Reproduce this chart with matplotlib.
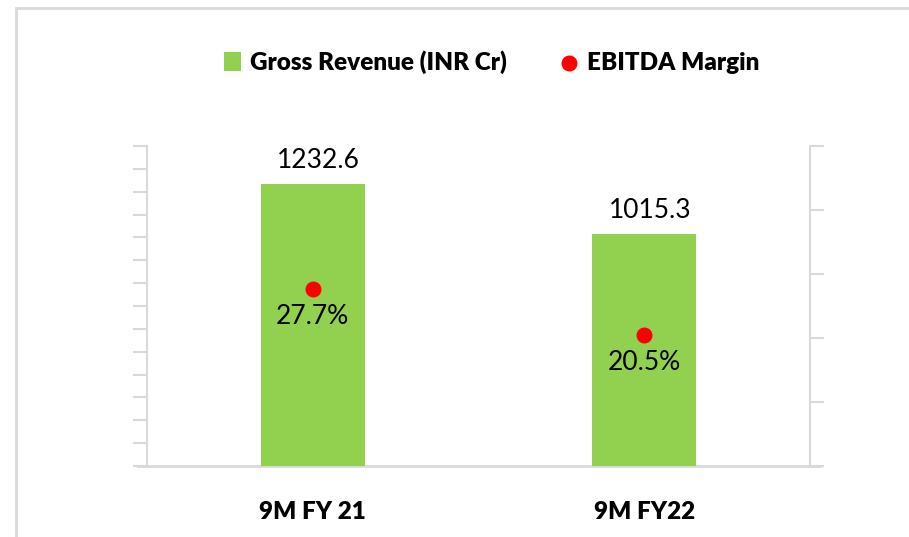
import matplotlib.pyplot as plt
from matplotlib.patches import Rectangle

# data
periods = ['9M FY 21', '9M FY22']
revenue = [1232.6, 1015.3]      # Gross Revenue (INR Cr)
ebitda_margin = [27.7, 20.5]    # EBITDA Margin (%)

green = '#92D050'
red = '#FF0000'
grey = '#D9D9D9'

plt.rcParams['font.family'] = ['Lato', 'DejaVu Sans']

fig = plt.figure(figsize=(9.09, 5.37), dpi=100)
ax = fig.add_axes([147 / 909, 71 / 537, 663 / 909, 320 / 537])
ax2 = ax.twinx()

x = list(range(len(periods)))
bars = ax.bar(x, revenue, width=0.315, color=green, label='Gross Revenue (INR Cr)', zorder=2)
pts = ax2.scatter(x, ebitda_margin, s=110, color=red, label='EBITDA Margin', zorder=3)

ax.set_xlim(-0.5, 1.5)
ax.set_ylim(0, 1400)
ax.set_yticks(range(0, 1401, 100))
ax2.set_ylim(0, 50)
ax2.set_yticks(range(0, 51, 10))
ax.set_yticklabels([])
ax2.set_yticklabels([])

ax.set_xticks(x)
ax.set_xticklabels(periods, fontsize=17.5, fontweight='heavy')
ax.tick_params(axis='x', length=0, pad=25)
ax.tick_params(axis='y', length=10, width=1.5, color=grey, direction='out')
ax2.tick_params(axis='y', length=10, width=1.5, color=grey, direction='out')

for a in (ax, ax2):
    a.spines['top'].set_visible(False)
    a.spines['bottom'].set_visible(False)
    a.spines['left'].set_color(grey)
    a.spines['right'].set_color(grey)
    a.spines['left'].set_linewidth(1.5)
    a.spines['right'].set_linewidth(1.5)
ax.spines['right'].set_visible(False)
ax2.spines['left'].set_visible(False)

# base line reaching past both axes
ax.plot([-0.0136, 1.015], [0, 0], transform=ax.transAxes, color=grey,
        linewidth=2, clip_on=False, zorder=1)

for xi, v in zip(x, revenue):
    ax.annotate(f'{v:.1f}', (xi, v), xytext=(4, 17), textcoords='offset points',
                ha='center', va='center', fontsize=19)
for xi, m in zip(x, ebitda_margin):
    ax2.annotate(f'{m:.1f}%', (xi, m), xytext=(0, -20), textcoords='offset points',
                 ha='center', va='center', fontsize=19)

fig.legend(handles=[bars, pts], loc='center', bbox_to_anchor=(0.541, 0.8845),
           ncol=2, frameon=False, prop={'weight': 'heavy', 'size': 17.5},
           handlelength=0.7, handleheight=0.8, handletextpad=0.4, columnspacing=2.2)

# outer chart border (cropped at right and bottom)
fig.patches.append(Rectangle((16 / 909, -0.05), 1.0, 1.05 - 8 / 537, transform=fig.transFigure,
                             fill=False, edgecolor=grey, linewidth=2))

plt.savefig('out.png', dpi=100)
